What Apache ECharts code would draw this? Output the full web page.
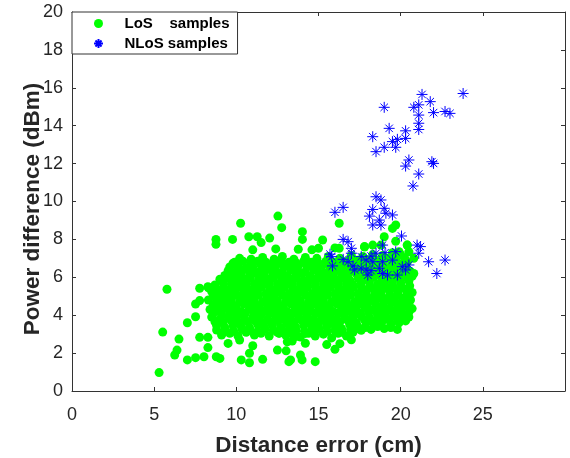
<!DOCTYPE html>
<html>
<head>
<meta charset="utf-8">
<script src="https://cdn.jsdelivr.net/npm/echarts@6/dist/echarts.min.js"></script>
<style>html,body{margin:0;padding:0;background:#fff}#c{width:570px;height:458px}</style>
</head>
<body>
<div id="c"></div>
<script>
var xTicks = [0, 5, 10, 15, 20, 25];
var yTicks = [0, 2, 4, 6, 8, 10, 12, 14, 16, 18, 20];
var seriesNames = ['LoS    samples', 'NLoS samples'];

var losPoints = [
  [9.1,2.95],[9.6,3.05],[10.1,2.9],[10.6,3.1],[11.1,2.95],[11.5,3.05],[12.0,2.9],[12.5,3.1],[13.0,2.95],[13.4,3.0],[13.9,2.85],[14.4,3.05],[14.8,2.9],[15.3,3.0],[15.8,2.8],[16.2,3.05],[16.7,2.9],[17.1,3.1],[17.6,3.2],[18.2,3.25],[19.0,3.3],[19.8,3.25],
  [9.35,3.2],[9.85,3.15],[10.35,3.25],[10.85,3.2],[11.3,3.15],[11.75,3.25],[12.25,3.2],[12.75,3.15],[13.2,3.25],[13.65,3.2],[14.15,3.15],[14.6,3.2],[15.05,3.25],[15.55,3.15],[16.0,3.2],[16.45,3.1],[16.95,3.25],[17.35,3.3],[17.85,3.35],[18.6,3.4],[19.4,3.35],
  [8.8,3.45],[9.3,3.35],[9.8,3.45],[10.3,3.4],[10.8,3.35],[11.3,3.5],[11.7,3.4],[12.2,3.45],[12.7,3.35],[13.2,3.5],[13.6,3.4],[14.1,3.45],[14.6,3.35],[15.0,3.5],[15.5,3.4],[16.0,3.45],[16.4,3.3],[16.9,3.5],[17.4,3.4],[17.9,3.6],[18.4,3.5],[18.9,3.7],[19.4,3.55],[19.9,3.6],[20.3,3.7],
  [8.7,3.65],[9.2,3.6],[9.7,3.7],[10.2,3.6],[10.7,3.65],[11.15,3.7],[11.6,3.6],[12.1,3.65],[12.55,3.7],[13.05,3.6],[13.5,3.65],[14.0,3.7],[14.45,3.6],[14.9,3.65],[15.4,3.7],[15.9,3.6],[16.3,3.65],[16.8,3.7],[17.3,3.6],[17.8,3.75],[18.3,3.7],[18.75,3.8],[19.3,3.75],[19.8,3.8],[20.2,3.85],
  [8.5,3.9],[9.0,3.8],[9.5,3.9],[10.0,3.85],[10.5,3.8],[11.0,3.9],[11.4,3.85],[11.9,3.8],[12.4,3.95],[12.9,3.85],[13.3,3.8],[13.8,3.9],[14.3,3.85],[14.7,3.8],[15.2,3.95],[15.7,3.85],[16.1,3.8],[16.6,3.9],[17.1,3.85],[17.6,3.95],[18.1,3.9],[18.6,4.0],[19.1,3.95],[19.6,4.0],[20.1,4.05],[20.5,3.9],
  [8.6,4.1],[9.1,4.05],[9.6,4.1],[10.1,4.05],[10.55,4.1],[11.05,4.15],[11.5,4.05],[12.0,4.1],[12.45,4.15],[12.9,4.05],[13.4,4.1],[13.85,4.15],[14.3,4.05],[14.8,4.1],[15.25,4.15],[15.7,4.05],[16.2,4.1],[16.65,4.15],[17.1,4.05],[17.55,4.1],[18.05,4.15],[18.5,4.2],[19.0,4.15],[19.5,4.2],[20.0,4.25],[20.5,4.15],
  [8.4,4.3],[8.9,4.25],[9.4,4.35],[9.9,4.3],[10.3,4.2],[10.8,4.35],[11.3,4.3],[11.7,4.25],[12.2,4.35],[12.7,4.3],[13.1,4.2],[13.6,4.35],[14.1,4.3],[14.5,4.25],[15.0,4.4],[15.5,4.3],[15.9,4.2],[16.4,4.35],[16.9,4.3],[17.3,4.25],[17.8,4.4],[18.3,4.3],[18.8,4.45],[19.3,4.35],[19.8,4.4],[20.3,4.5],[20.7,4.35],
  [8.6,4.55],[9.05,4.5],[9.55,4.55],[10.0,4.5],[10.45,4.6],[10.95,4.55],[11.4,4.5],[11.9,4.6],[12.35,4.55],[12.85,4.5],[13.3,4.6],[13.75,4.55],[14.25,4.5],[14.7,4.6],[15.15,4.55],[15.65,4.5],[16.1,4.6],[16.55,4.55],[17.05,4.5],[17.5,4.6],[17.95,4.55],[18.45,4.65],[18.95,4.6],[19.45,4.65],[19.95,4.6],[20.45,4.7],
  [8.3,4.8],[8.8,4.7],[9.3,4.75],[9.7,4.8],[10.2,4.7],[10.7,4.8],[11.1,4.75],[11.6,4.7],[12.1,4.85],[12.5,4.75],[13.0,4.7],[13.5,4.8],[13.9,4.75],[14.4,4.7],[14.9,4.85],[15.3,4.75],[15.8,4.7],[16.3,4.8],[16.7,4.75],[17.2,4.7],[17.7,4.85],[18.2,4.8],[18.6,4.9],[19.1,4.8],[19.6,4.85],[20.1,4.9],[20.6,4.8],
  [8.6,5.0],[9.05,4.95],[9.5,5.0],[10.0,5.05],[10.45,4.95],[10.9,5.0],[11.35,5.05],[11.85,4.95],[12.3,5.0],[12.8,5.05],[13.25,4.95],[13.7,5.0],[14.2,5.05],[14.65,4.95],[15.1,5.0],[15.55,5.05],[16.05,4.95],[16.5,5.0],[16.95,5.05],[17.45,4.95],[17.9,5.05],[18.4,5.05],[18.85,5.0],[19.35,5.05],[19.85,5.1],[20.4,5.1],
  [8.5,5.25],[9.0,5.15],[9.5,5.2],[9.9,5.25],[10.4,5.15],[10.9,5.2],[11.3,5.3],[11.8,5.15],[12.3,5.2],[12.7,5.25],[13.2,5.15],[13.7,5.2],[14.1,5.3],[14.6,5.15],[15.1,5.2],[15.5,5.25],[16.0,5.15],[16.5,5.2],[16.9,5.3],[17.4,5.15],[17.9,5.25],[18.4,5.3],[18.8,5.2],[19.3,5.3],[19.8,5.25],[20.3,5.35],[20.7,5.2],
  [8.3,5.45],[8.8,5.4],[9.25,5.45],[9.7,5.4],[10.2,5.5],[10.65,5.45],[11.1,5.4],[11.55,5.5],[12.05,5.45],[12.5,5.4],[12.95,5.5],[13.45,5.45],[13.9,5.4],[14.35,5.5],[14.85,5.45],[15.3,5.4],[15.75,5.5],[16.25,5.45],[16.7,5.4],[17.15,5.5],[17.65,5.45],[18.15,5.5],[18.6,5.45],[19.1,5.5],[19.55,5.5],[20.05,5.5],[20.55,5.55],
  [8.7,5.6],[9.2,5.7],[9.7,5.65],[10.1,5.6],[10.6,5.7],[11.1,5.65],[11.5,5.6],[12.0,5.7],[12.5,5.65],[12.9,5.6],[13.4,5.7],[13.9,5.65],[14.3,5.6],[14.8,5.7],[15.3,5.65],[15.7,5.6],[16.2,5.7],[16.7,5.65],[17.1,5.6],[17.6,5.7],[18.1,5.75],[18.6,5.65],[19.0,5.7],[19.5,5.75],[20.0,5.7],[20.5,5.8],
  [9.0,5.9],[9.5,5.95],[9.95,5.85],[10.4,5.9],[10.85,5.95],[11.35,5.85],[11.8,5.9],[12.25,5.95],[12.75,5.85],[13.2,5.9],[13.65,5.95],[14.1,5.85],[14.6,5.9],[15.05,5.95],[15.5,5.85],[16.0,5.9],[16.45,5.95],[16.9,5.85],[17.4,5.95],[17.85,5.9],[18.35,6.0],[18.85,5.95],[19.3,5.95],[19.8,6.0],[20.3,6.0],[20.7,6.05],
  [9.3,6.1],[9.8,6.15],[10.3,6.05],[10.8,6.1],[11.2,6.2],[11.7,6.05],[12.2,6.1],[12.6,6.15],[13.1,6.05],[13.6,6.1],[14.0,6.2],[14.5,6.05],[15.0,6.1],[15.4,6.15],[15.9,6.05],[16.4,6.15],[16.8,6.1],[17.3,6.2],[17.8,6.1],[18.3,6.2],[18.7,6.15],[19.2,6.2],[19.7,6.25],[20.2,6.2],[20.6,6.3],
  [9.5,6.35],[10.0,6.3],[10.45,6.4],[10.95,6.35],[11.4,6.3],[11.85,6.4],[12.35,6.35],[12.8,6.3],[13.3,6.4],[13.75,6.35],[14.2,6.3],[14.7,6.4],[15.15,6.35],[15.6,6.3],[16.1,6.4],[16.55,6.35],[17.0,6.4],[17.5,6.45],[17.95,6.4],[18.45,6.45],[18.9,6.4],[19.35,6.5],[19.85,6.45],[20.3,6.55],
  [9.6,6.55],[10.1,6.6],[10.6,6.5],[11.0,6.55],[11.5,6.65],[12.0,6.5],[12.4,6.6],[12.9,6.55],[13.4,6.5],[13.8,6.65],[14.3,6.55],[14.8,6.5],[15.2,6.6],[15.7,6.55],[16.2,6.5],[16.6,6.65],[17.1,6.6],[17.6,6.7],[18.1,6.65],[18.6,6.7],[19.0,6.6],[19.5,6.75],[20.0,6.7],[20.4,6.8],
  [9.9,6.8],[10.4,6.85],[10.9,6.75],[11.3,6.85],[11.8,6.8],[12.25,6.75],[12.7,6.85],[13.2,6.8],[13.65,6.75],[14.1,6.85],[14.55,6.8],[15.0,6.75],[15.45,6.85],[15.95,6.8],[16.4,6.85],[16.85,6.9],[17.35,6.9],[17.85,6.95],[18.4,6.95],[18.8,6.95],[19.25,7.0],[19.75,7.05],[20.25,7.0],
  [10.2,7.0],[10.9,6.95],[11.6,7.05],[12.3,6.95],[12.8,7.1],[13.5,6.95],[14.2,7.05],[14.9,7.0],[15.6,7.1],[16.3,7.0],[17.0,7.15],[17.7,7.1],[18.3,7.2],[18.9,7.15],[19.5,7.3],[20.0,7.2],[20.5,7.35],
  [11.0,7.45],[12.4,7.5],[14.6,7.45],[16.0,7.55],[17.8,7.6],[18.3,7.7],[18.8,7.7],[19.7,7.9],[20.4,7.7],[9.6,6.3],[9.8,6.74],[10.6,6.5],
  [12.53,9.23],[10.26,8.85],[12.76,8.62],[14.02,8.41],[8.76,8.0],[8.76,7.74],[9.77,8.0],[10.76,8.14],[11.27,8.14],[11.51,7.83],[12.03,8.07],[14.02,8.0],[13.77,7.48],[15.0,7.53],
  [5.78,5.37],[7.77,5.42],[8.27,5.5],[8.6,5.07],[7.52,4.59],[7.77,4.77],[7.52,3.92],[7.02,3.6],[5.52,3.11],[6.51,2.74],[7.77,2.83],[8.27,2.83],[8.27,2.29],[6.39,2.16],[6.25,1.9],
  [7.02,1.64],[7.52,1.76],[8.03,1.81],[8.78,1.81],[9.0,1.72],[5.3,0.97],[10.3,1.64],[10.8,1.49],[11.6,1.67],[10.8,1.99],[12.5,2.16],[13.03,2.12],[13.2,1.55],[14.0,1.64],[14.8,1.55],
  [13.4,2.64],[14.2,2.52],[9.5,2.51],[10.2,2.69],[11.0,2.39],[13.1,2.6],[13.3,1.64],[13.9,1.9],[8.8,3.22],[9.14,3.04],[12.6,3.04],[13.6,2.87],[14.2,3.04],
  [15.5,2.45],[16.3,2.5],[17.0,2.7],[16.0,2.2],
  [16.26,8.85],[19.7,8.76],[19.5,8.58],[19.0,8.14],[15.25,7.97],[16.26,7.53],[17.8,7.62],[20.4,7.7],[19.9,7.35],[20.8,7.0],[20.8,6.2]
];

var nlosPoints = [
  [21.3,15.65],[23.8,15.7],[19.0,14.97],[20.8,14.97],[21.1,15.1],[21.8,15.27],[21.1,14.56],[22.0,14.69],[22.7,14.75],[23.0,14.65],
  [21.1,14.13],[21.1,13.8],[19.3,13.86],[20.3,13.73],[18.3,13.42],[20.3,13.33],[19.5,13.16],[19.8,13.28],[19.7,12.86],[19.0,12.86],[18.5,12.63],
  [20.5,12.19],[20.3,11.87],[22.0,12.01],[21.9,12.1],[21.1,11.45],[20.75,10.82],[18.5,10.25],[18.8,10.08],[16.0,9.43],[16.5,9.69],
  [18.3,9.58],[19.0,9.64],[19.1,9.38],[18.1,9.23],[19.5,9.29],[18.7,9.02],[18.8,8.76],[18.3,8.76],[20.05,8.18],
  [16.5,8.0],[16.8,7.88],[17.0,7.53],[17.0,7.27],[15.7,7.22],[15.8,7.09],[15.85,6.6],[16.5,6.95],[16.8,6.82],[17.1,6.6],[17.2,6.39],
  [17.6,7.09],[17.9,6.91],[18.2,7.12],[18.5,7.27],[18.3,6.82],[18.9,7.7],[19.05,7.3],[18.9,6.82],[19.5,6.91],[19.7,7.35],
  [17.6,6.48],[17.9,6.39],[18.2,6.35],[18.7,6.48],[18.9,6.2],[19.2,6.12],[19.8,6.12],[20.1,6.56],[20.3,6.39],[20.5,6.65],
  [21.0,7.7],[21.2,7.62],[21.1,7.27],[21.7,6.82],[22.7,6.91],[22.2,6.2],[18.0,6.12]
];

var asterisk = 'path://M5,0L5,10M0,5L10,5M1.6,1.6L8.4,8.4M1.6,8.4L8.4,1.6';
var axisColor = '#333333';
var textColor = '#262626';
var font = 'Liberation Sans, Arial, sans-serif';

var chart = echarts.init(document.getElementById('c'), null, {renderer: 'canvas'});

function baseAxis(extra) {
  var a = {
    type: 'value',
    axisLine: {show: true, onZero: false, lineStyle: {color: axisColor, width: 1}},
    axisTick: {show: true, inside: true, length: 4, lineStyle: {color: axisColor, width: 1}},
    splitLine: {show: false},
    axisLabel: {show: false}
  };
  for (var k in extra) a[k] = extra[k];
  return a;
}

chart.setOption({
  animation: false,
  backgroundColor: '#ffffff',
  grid: {left: 72, right: 5, top: 12, bottom: 67, containLabel: false, outerBoundsMode: 'none'},
  legend: {
    show: true,
    orient: 'vertical',
    left: 72, top: 12,
    padding: [4, 8, 3, 21],
    itemGap: 5,
    itemWidth: 42, itemHeight: 9,
    backgroundColor: '#ffffff',
    borderColor: axisColor, borderWidth: 1, borderRadius: 0,
    textStyle: {fontFamily: font, fontSize: 15, fontWeight: 'bold', color: '#000000'},
    data: [
      {name: seriesNames[0], icon: 'circle'},
      {name: seriesNames[1], icon: asterisk}
    ]
  },
  xAxis: [
    baseAxis({
      position: 'bottom', min: xTicks[0], max: 30, interval: 5,
      axisLabel: {show: true, margin: 15, color: textColor, fontSize: 18, fontFamily: font, showMaxLabel: false,
        formatter: function (v) { return xTicks.indexOf(v) >= 0 ? String(v) : ''; }},
      name: 'Distance error (cm)', nameLocation: 'middle', nameGap: 43, nameMoveOverlap: false,
      nameTextStyle: {fontFamily: font, fontSize: 22.5, fontWeight: 'bold', color: textColor}
    }),
    baseAxis({position: 'top', min: 0, max: 30, interval: 5})
  ],
  yAxis: [
    baseAxis({
      position: 'left', min: yTicks[0], max: yTicks[yTicks.length - 1], interval: 2,
      axisLabel: {show: true, margin: 9, color: textColor, fontSize: 18, fontFamily: font},
      name: 'Power difference (dBm)', nameLocation: 'middle', nameGap: 28, nameMoveOverlap: false,
      nameTextStyle: {fontFamily: font, fontSize: 22.5, fontWeight: 'bold', color: textColor, padding: [0, 15, 0, 0]}
    }),
    baseAxis({position: 'right', min: 0, max: 20, interval: 2})
  ],
  series: [
    {
      name: seriesNames[0], type: 'scatter', xAxisIndex: 0, yAxisIndex: 0,
      symbol: 'circle', symbolSize: 9,
      itemStyle: {color: '#00ff00', opacity: 1},
      data: losPoints, z: 2
    },
    {
      name: seriesNames[1], type: 'scatter', xAxisIndex: 0, yAxisIndex: 0,
      symbol: asterisk, symbolSize: 11, symbolKeepAspect: true,
      itemStyle: {color: '#0000ff', borderColor: '#0000ff', borderWidth: 1, opacity: 1},
      data: nlosPoints, z: 3
    }
  ]
});
</script>
</body>
</html>
